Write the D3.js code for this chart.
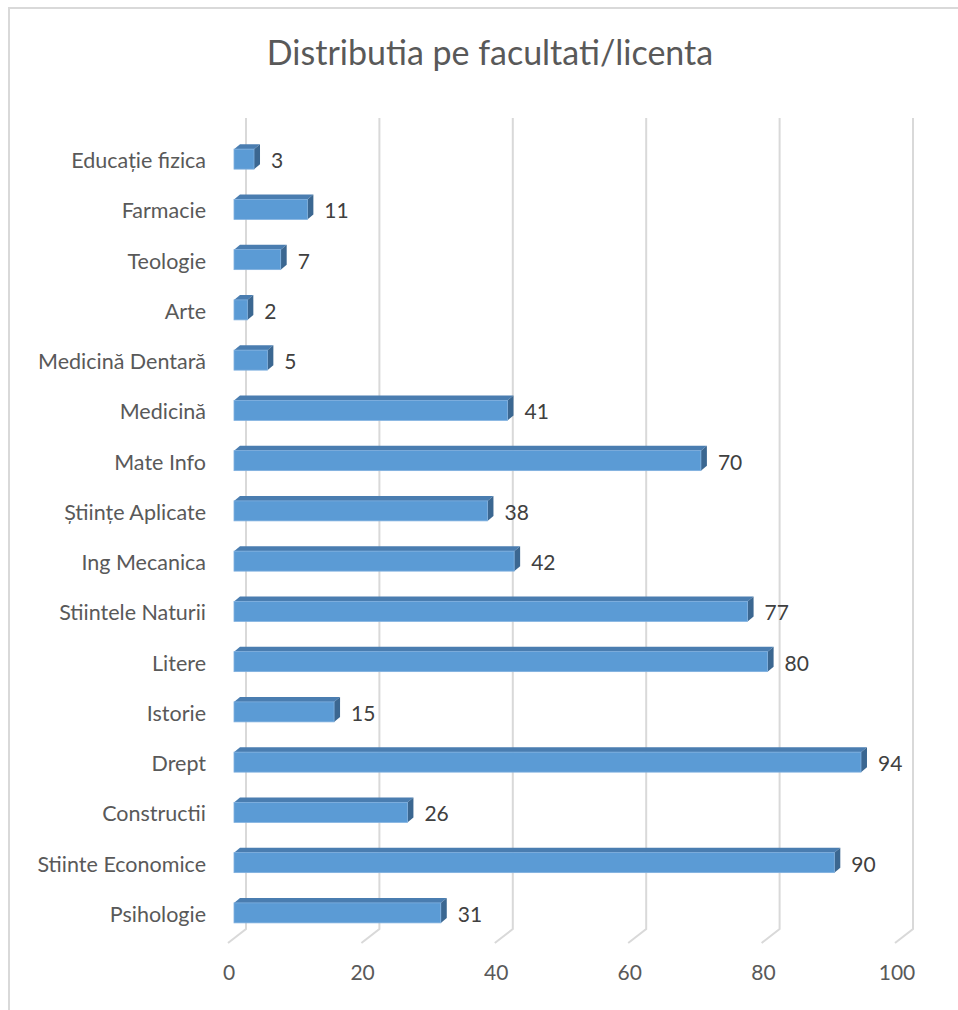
<!DOCTYPE html>
<html><head><meta charset="utf-8">
<script src="https://cdn.jsdelivr.net/npm/d3@7"></script>
<style>body{margin:0;background:#fff}svg{display:block}</style>
</head><body>
<script>
const categories = ["Educație fizica","Farmacie","Teologie","Arte","Medicină Dentară","Medicină","Mate Info","Științe Aplicate","Ing Mecanica","Stiintele Naturii","Litere","Istorie","Drept","Constructii","Stiinte Economice","Psihologie"];
const values = [3,11,7,2,5,41,70,38,42,77,80,15,94,26,90,31];
const ticks = [0,20,40,60,80,100];
const title = "Distributia pe facultati/licenta";

const W=958,H=1010;
const svg=d3.select("body").append("svg").attr("width",W).attr("height",H);
const font="Lato, 'Open Sans', sans-serif";

svg.append("rect").attr("x",9).attr("y",8).attr("width",W+20).attr("height",H+20)
  .attr("fill","#fff").attr("stroke","#d9d9d9").attr("stroke-width",2);

svg.append("text").attr("x",490).attr("y",65).attr("text-anchor","middle")
  .attr("font-family",font).attr("font-size",34).attr("fill","#595959").text(title);

const xBack=d3.scaleLinear().domain([0,100]).range([246,913]);
const xFront=d3.scaleLinear().domain([0,100]).range([228,896]);
const xBar=d3.scaleLinear().domain([0,100]).range([234,901]);
const y=d3.scaleBand().domain(categories).range([134,938]).padding(0);
const wallTop=118, wallBottom=929, floorDx=-18, floorDy=14;

const g=svg.append("g");
ticks.forEach(t=>{
  const xb=xBack(t);
  g.append("path").attr("d",`M${xb},${wallTop}L${xb},${wallBottom}L${xb+floorDx},${wallBottom+floorDy}`)
   .attr("fill","none").attr("stroke","#d9d9d9").attr("stroke-width",2);
});
svg.append("g").selectAll("text").data(ticks).join("text")
  .attr("x",d=>xFront(d)+1).attr("y",980).attr("text-anchor","middle")
  .attr("font-family",font).attr("font-size",21).attr("fill","#595959").text(d=>d);

svg.append("g").selectAll("text").data(categories).join("text")
  .attr("x",206).attr("y",d=>y(d)+y.bandwidth()/2+9).attr("text-anchor","end")
  .attr("font-family",font).attr("font-size",21.5).attr("fill","#595959").text(d=>d);

const bh=20, dx=6, dy=-5;
const bars=svg.append("g").selectAll("g").data(categories.map((c,i)=>({c,v:values[i]}))).join("g");
bars.each(function(d){
  const gg=d3.select(this);
  const x0=xBar(0), x1=xBar(d.v);
  const yc=y(d.c)+y.bandwidth()/2;
  const yt=yc-bh/2, yb=yc+bh/2;
  gg.append("path").attr("d",`M${x0},${yt}L${x0+dx},${yt+dy}L${x1+dx},${yt+dy}L${x1},${yt}Z`).attr("fill","#4a7db0");
  gg.append("path").attr("d",`M${x1},${yt}L${x1+dx},${yt+dy}L${x1+dx},${yb+dy}L${x1},${yb}Z`).attr("fill","#3b6791");
  gg.append("rect").attr("x",x0).attr("y",yt).attr("width",x1-x0).attr("height",bh)
    .attr("fill","#5b9bd5").attr("stroke","#7fb0df").attr("stroke-width",0.8);
  gg.append("text").attr("x",x1+dx+11).attr("y",yc+9)
    .attr("font-family",font).attr("font-size",21).attr("fill","#404040").text(d.v);
});
</script>
</body></html>
